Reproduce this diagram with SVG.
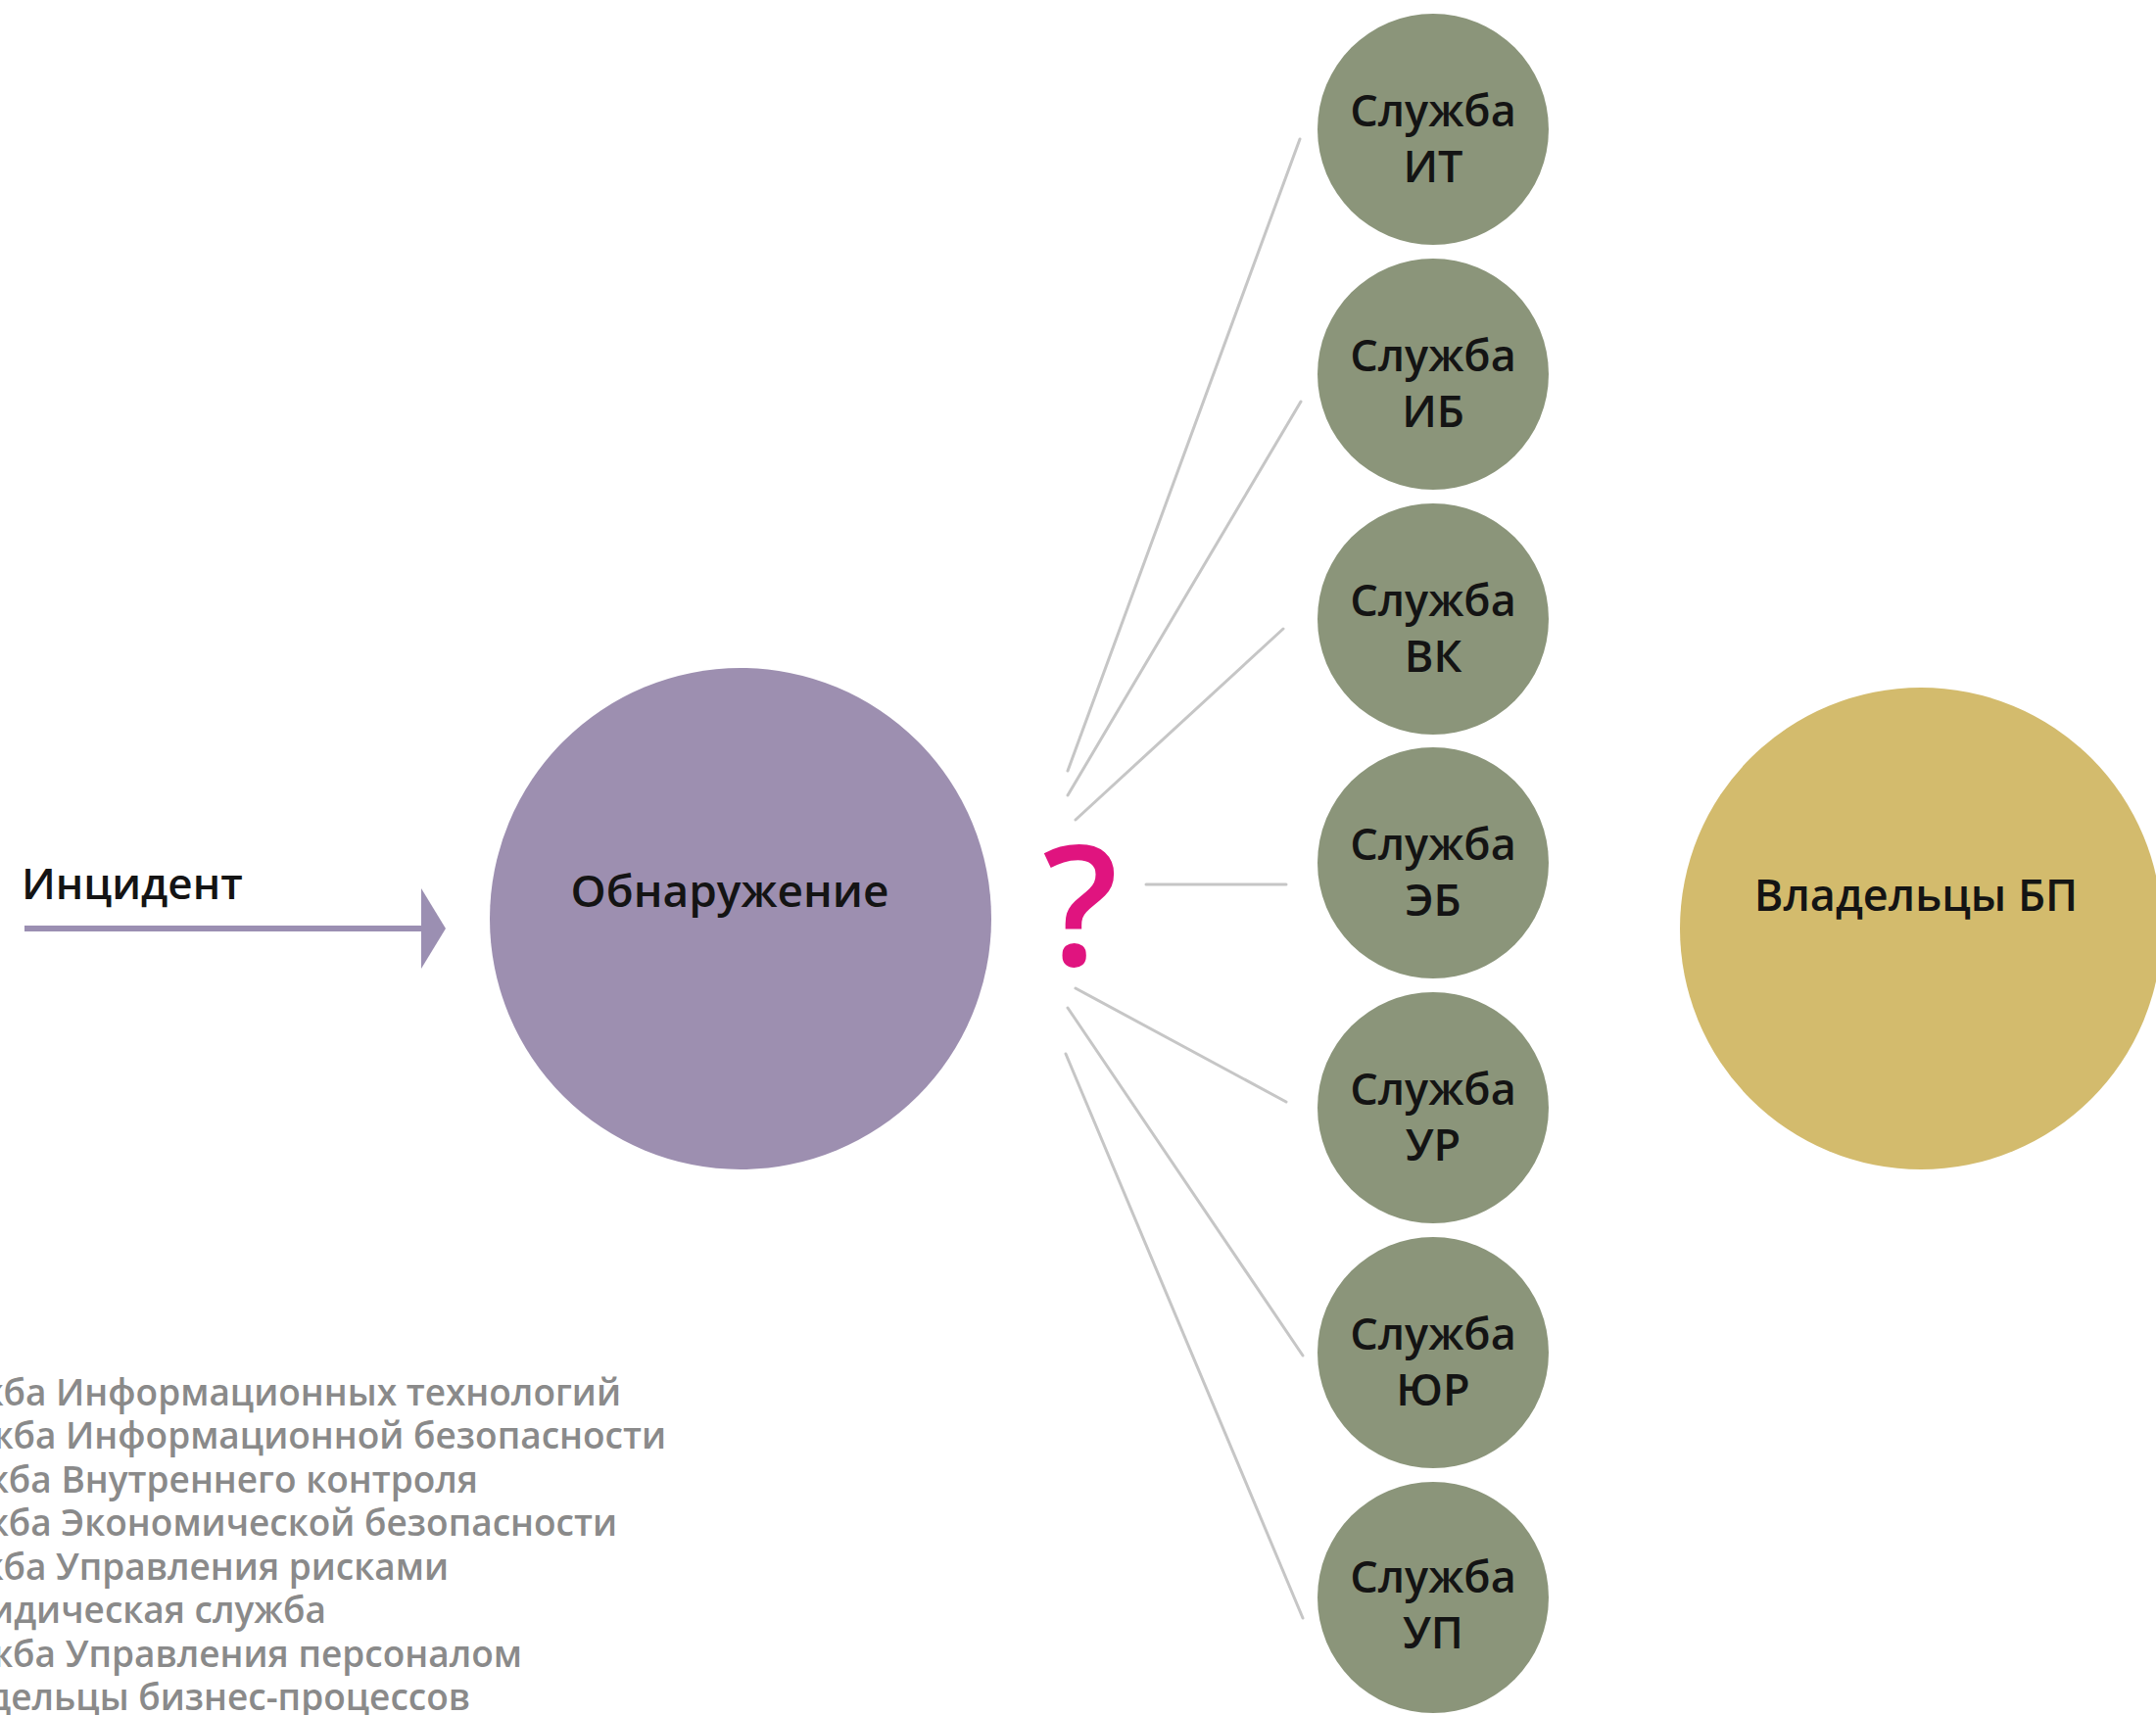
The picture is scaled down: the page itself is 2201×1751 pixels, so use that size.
<svg xmlns="http://www.w3.org/2000/svg" width="2201" height="1751" viewBox="0 0 2201 1751">
<defs>
<style>
.bg{fill:#ffffff}
.svc{fill:#8b957a}
.lbl{font-family:"Open Sans","Noto Sans","DejaVu Sans",sans-serif;fill:#141414;font-weight:600}
.svct{font-size:45px;text-anchor:middle}
.spoke{stroke:#c6c6c6;stroke-width:3;fill:none;stroke-linecap:round}
.leg{font-family:"Open Sans","Noto Sans","DejaVu Sans",sans-serif;font-size:37px;font-weight:600;fill:#8a8a8a;text-anchor:end}
</style>
<marker id="ah" markerUnits="userSpaceOnUse" markerWidth="26" markerHeight="82" refX="0" refY="41" orient="auto" viewBox="0 0 26 82">
<path d="M0,0 L25,41 L0,82 Z" fill="#9b8fb2"/>
</marker>
</defs>
<rect class="bg" x="0" y="0" width="2201" height="1751"/>

<g id="connectors">
<line x1="25" y1="948" x2="430" y2="948" stroke="#9b8fb2" stroke-width="6" marker-end="url(#ah)"/>
<line class="spoke" x1="1090" y1="787" x2="1327" y2="142"/>
<line class="spoke" x1="1090" y1="812" x2="1328" y2="410"/>
<line class="spoke" x1="1098" y1="837" x2="1310" y2="642"/>
<line class="spoke" x1="1170" y1="903" x2="1313" y2="903"/>
<line class="spoke" x1="1098" y1="1009" x2="1313" y2="1125"/>
<line class="spoke" x1="1090" y1="1029" x2="1330" y2="1384"/>
<line class="spoke" x1="1088" y1="1076" x2="1330" y2="1652"/>
</g>

<g id="incident">
<text class="lbl" x="22" y="918" font-size="44">Инцидент</text>
</g>

<g id="detection">
<circle cx="756" cy="938" r="256" fill="#9d8fb0"/>
<text class="lbl" x="745" y="926" font-size="46" text-anchor="middle">Обнаружение</text>
</g>

<g id="question">
<text x="1103" y="986" font-family="'Open Sans','Noto Sans',sans-serif" font-weight="600" font-size="170" fill="#e0147f" text-anchor="middle">?</text>
</g>

<g id="svc-it">
<circle class="svc" cx="1463" cy="132" r="118"/>
<text class="lbl svct" x="1463" y="129">Служба</text>
<text class="lbl svct" x="1463" y="186">ИТ</text>
</g>
<g id="svc-ib">
<circle class="svc" cx="1463" cy="382" r="118"/>
<text class="lbl svct" x="1463" y="379">Служба</text>
<text class="lbl svct" x="1463" y="436">ИБ</text>
</g>
<g id="svc-vk">
<circle class="svc" cx="1463" cy="632" r="118"/>
<text class="lbl svct" x="1463" y="629">Служба</text>
<text class="lbl svct" x="1463" y="686">ВК</text>
</g>
<g id="svc-eb">
<circle class="svc" cx="1463" cy="881" r="118"/>
<text class="lbl svct" x="1463" y="878">Служба</text>
<text class="lbl svct" x="1463" y="935">ЭБ</text>
</g>
<g id="svc-ur">
<circle class="svc" cx="1463" cy="1131" r="118"/>
<text class="lbl svct" x="1463" y="1128">Служба</text>
<text class="lbl svct" x="1463" y="1185">УР</text>
</g>
<g id="svc-yur">
<circle class="svc" cx="1463" cy="1381" r="118"/>
<text class="lbl svct" x="1463" y="1378">Служба</text>
<text class="lbl svct" x="1463" y="1435">ЮР</text>
</g>
<g id="svc-up">
<circle class="svc" cx="1463" cy="1631" r="118"/>
<text class="lbl svct" x="1463" y="1626">Служба</text>
<text class="lbl svct" x="1463" y="1683">УП</text>
</g>

<g id="owners">
<circle cx="1961" cy="948" r="246" fill="#d3bb6d"/>
<text class="lbl" x="1956" y="930" font-size="45" text-anchor="middle">Владельцы БП</text>
</g>

<g id="legend">
<text class="leg" x="634" y="1435">Служба Информационных технологий</text>
<text class="leg" x="680" y="1479">Служба Информационной безопасности</text>
<text class="leg" x="488" y="1524">Служба Внутреннего контроля</text>
<text class="leg" x="630" y="1568">Служба Экономической безопасности</text>
<text class="leg" x="458" y="1613">Служба Управления рисками</text>
<text class="leg" x="333" y="1657">Юридическая служба</text>
<text class="leg" x="533" y="1702">Служба Управления персоналом</text>
<text class="leg" x="480" y="1746">Владельцы бизнес-процессов</text>
</g>
</svg>
